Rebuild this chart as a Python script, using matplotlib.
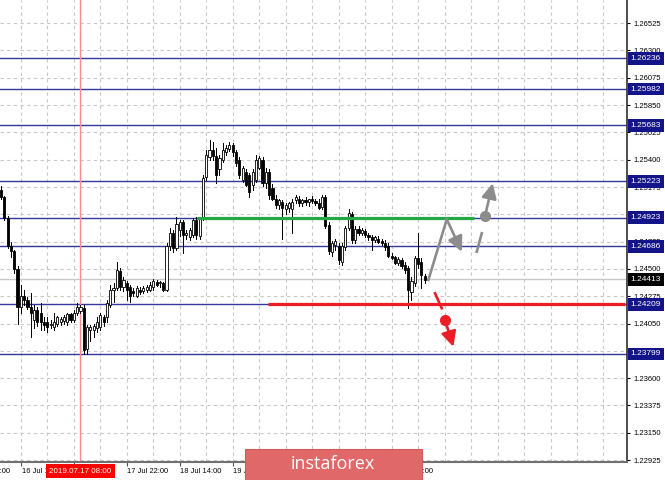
import matplotlib
matplotlib.use("Agg")
import matplotlib.pyplot as plt
from matplotlib.patches import Rectangle

# GBPUSD H1 candles, 16 Jul 08:00 .. 23 Jul 16:00
opens = [1.2515, 1.2509, 1.2492, 1.2469, 1.2465, 1.2450, 1.2419, 1.2428, 1.2424, 1.2419,
         1.2408, 1.2416, 1.2414, 1.2406, 1.2406, 1.2404, 1.2402, 1.2405, 1.2406, 1.2407,
         1.2406, 1.2413, 1.2408, 1.2414, 1.2415, 1.2418, 1.2384, 1.2400, 1.2400, 1.2401,
         1.2402, 1.2410, 1.2410, 1.2420, 1.2433, 1.2434, 1.2448, 1.2435, 1.2438, 1.2435,
         1.2432, 1.2428, 1.2433, 1.2432, 1.2433, 1.2433, 1.2435, 1.2439, 1.2438, 1.2438,
         1.2433, 1.2469, 1.2480, 1.2467, 1.2482, 1.2489, 1.2478, 1.2476, 1.2478, 1.2490,
         1.2477, 1.2491, 1.2526, 1.2542, 1.2548, 1.2543, 1.2532, 1.2540, 1.2546, 1.2549,
         1.2552, 1.2546, 1.2540, 1.2523, 1.2530, 1.2527, 1.2519, 1.2523, 1.2533, 1.2540,
         1.2521, 1.2530, 1.2517, 1.2508, 1.2503, 1.2505, 1.2499, 1.2500, 1.2499, 1.2507,
         1.2508, 1.2504, 1.2507, 1.2505, 1.2508, 1.2506, 1.2504, 1.2501, 1.2509, 1.2486,
         1.2464, 1.2470, 1.2469, 1.2456, 1.2468, 1.2484, 1.2495, 1.2474, 1.2483, 1.2480,
         1.2481, 1.2478, 1.2476, 1.2474, 1.2475, 1.2473, 1.2471, 1.2469, 1.2461, 1.2460,
         1.2455, 1.2457, 1.2453, 1.2451, 1.2431, 1.2438, 1.2459, 1.2456, 1.2444]
highs = [1.2518, 1.2510, 1.2494, 1.2472, 1.2466, 1.2452, 1.2437, 1.2433, 1.2427, 1.2430,
         1.2420, 1.2419, 1.2422, 1.2410, 1.2410, 1.2408, 1.2414, 1.2411, 1.2410, 1.2412,
         1.2414, 1.2414, 1.2416, 1.2422, 1.2420, 1.2420, 1.2404, 1.2404, 1.2405, 1.2410,
         1.2414, 1.2412, 1.2424, 1.2437, 1.2438, 1.2456, 1.2451, 1.2443, 1.2440, 1.2437,
         1.2434, 1.2436, 1.2435, 1.2436, 1.2437, 1.2439, 1.2442, 1.2441, 1.2440, 1.2439,
         1.2471, 1.2484, 1.2482, 1.2493, 1.2490, 1.2490, 1.2482, 1.2484, 1.2492, 1.2493,
         1.2493, 1.2527, 1.2548, 1.2556, 1.2555, 1.2550, 1.2544, 1.2554, 1.2552, 1.2555,
         1.2554, 1.2548, 1.2542, 1.2535, 1.2532, 1.2529, 1.2532, 1.2544, 1.2543, 1.2542,
         1.2533, 1.2532, 1.2520, 1.2511, 1.2508, 1.2507, 1.2504, 1.2505, 1.2508, 1.2511,
         1.2510, 1.2508, 1.2509, 1.2508, 1.2510, 1.2508, 1.2508, 1.2511, 1.2511, 1.2489,
         1.2473, 1.2475, 1.2471, 1.2471, 1.2485, 1.2499, 1.2497, 1.2485, 1.2485, 1.2484,
         1.2483, 1.2480, 1.2478, 1.2477, 1.2477, 1.2475, 1.2474, 1.2471, 1.2463, 1.2461,
         1.2460, 1.2459, 1.2456, 1.2452, 1.2443, 1.2461, 1.2480, 1.2459, 1.2446]
lows = [1.2508, 1.2490, 1.2467, 1.2460, 1.2447, 1.2405, 1.2414, 1.2420, 1.2417, 1.2394,
        1.2401, 1.2403, 1.2400, 1.2400, 1.2398, 1.2401, 1.2400, 1.2403, 1.2404, 1.2405,
        1.2404, 1.2406, 1.2406, 1.2412, 1.2414, 1.2380, 1.2380, 1.2391, 1.2394, 1.2398,
        1.2400, 1.2403, 1.2406, 1.2419, 1.2423, 1.2433, 1.2433, 1.2432, 1.2424, 1.2423,
        1.2428, 1.2427, 1.2429, 1.2430, 1.2431, 1.2432, 1.2433, 1.2436, 1.2435, 1.2432,
        1.2432, 1.2466, 1.2464, 1.2466, 1.2477, 1.2463, 1.2475, 1.2474, 1.2476, 1.2475,
        1.2475, 1.2490, 1.2523, 1.2540, 1.2540, 1.2521, 1.2527, 1.2538, 1.2544, 1.2547,
        1.2543, 1.2535, 1.2525, 1.2522, 1.2518, 1.2509, 1.2515, 1.2522, 1.2532, 1.2518,
        1.2517, 1.2508, 1.2507, 1.2500, 1.2499, 1.2475, 1.2495, 1.2497, 1.2480, 1.2504,
        1.2502, 1.2502, 1.2503, 1.2502, 1.2504, 1.2503, 1.2499, 1.2499, 1.2484, 1.2462,
        1.2461, 1.2466, 1.2454, 1.2453, 1.2466, 1.2482, 1.2471, 1.2471, 1.2478, 1.2478,
        1.2476, 1.2474, 1.2466, 1.2472, 1.2471, 1.2470, 1.2466, 1.2460, 1.2458, 1.2454,
        1.2453, 1.2451, 1.2447, 1.2418, 1.2424, 1.2436, 1.2451, 1.2434, 1.2438]
closes = [1.2509, 1.2492, 1.2469, 1.2465, 1.2450, 1.2419, 1.2428, 1.2424, 1.2419, 1.2414,
          1.2416, 1.2406, 1.2406, 1.2404, 1.2402, 1.2405, 1.2406, 1.2410, 1.2409, 1.2410,
          1.2413, 1.2408, 1.2414, 1.2419, 1.2419, 1.2383, 1.2402, 1.2402, 1.2403, 1.2406,
          1.2412, 1.2406, 1.2422, 1.2433, 1.2434, 1.2449, 1.2435, 1.2441, 1.2433, 1.2428,
          1.2430, 1.2434, 1.2431, 1.2434, 1.2435, 1.2437, 1.2440, 1.2437, 1.2439, 1.2433,
          1.2469, 1.2480, 1.2467, 1.2487, 1.2489, 1.2478, 1.2480, 1.2482, 1.2490, 1.2478,
          1.2491, 1.2525, 1.2544, 1.2548, 1.2543, 1.2527, 1.2541, 1.2548, 1.2550, 1.2552,
          1.2546, 1.2537, 1.2527, 1.2533, 1.2519, 1.2513, 1.2530, 1.2540, 1.2541, 1.2521,
          1.2530, 1.2511, 1.2508, 1.2503, 1.2507, 1.2500, 1.2503, 1.2504, 1.2505, 1.2509,
          1.2504, 1.2507, 1.2505, 1.2508, 1.2506, 1.2504, 1.2500, 1.2509, 1.2485, 1.2465,
          1.2471, 1.2473, 1.2457, 1.2469, 1.2484, 1.2496, 1.2474, 1.2483, 1.2480, 1.2482,
          1.2478, 1.2476, 1.2474, 1.2476, 1.2472, 1.2471, 1.2468, 1.2461, 1.2459, 1.2455,
          1.2458, 1.2452, 1.2449, 1.2433, 1.2440, 1.2459, 1.2454, 1.2445, 1.2441]

levels = [1.26236, 1.25982, 1.25683, 1.25223, 1.24923, 1.24686, 1.24209, 1.23799]
current_price = 1.24413
green_level = 1.24923
red_level = 1.24209
green_span = [59.2, 142.9]
red_span = [80.7, 188.5]

price_ticks = [1.22925, 1.23150, 1.23375, 1.23600, 1.23825, 1.24050, 1.24275, 1.24500,
               1.24725, 1.24950, 1.25175, 1.25400, 1.25625, 1.25850, 1.26075, 1.26300,
               1.26525]
time_idx = [-10, 6, 22, 38, 54, 70, 86, 102, 118]
time_labels = ["15 Jul 22:00", "16 Jul 14:00", "17 Jul 06:00", "17 Jul 22:00",
               "18 Jul 14:00", "19 Jul 06:00", "19 Jul 22:00", "22 Jul 14:00",
               "23 Jul 06:00"]
marker_idx = 24
marker_label = "2019.07.17 08:00"

# forecast arrows (candle index, price)
up_path_x = [129.1, 134.66, 139.19]
up_path_y = [1.24409, 1.24909, 1.24642]
up2_x = [143.72, 145.23, 146.23, 148.55]
up2_y = [1.24642, 1.24794, 1.24939, 1.25206]
down_x = [131.12, 133.14, 134.14, 136.65]
down_y = [1.24299, 1.24176, 1.24079, 1.23859]

FONT = "Liberation Sans"
GRAY_ARROW = "#8c8c8c"
RED = "#ee1c25"

fig = plt.figure(figsize=(6.65, 4.8), dpi=100)
ax = fig.add_axes([0, 18 / 480, 627 / 665, 462 / 480])
ax.set_xlim(-0.3, 189.1)
ax.set_ylim(1.22909, 1.26716)

# dashed grid
for p in price_ticks:
    ax.axhline(p, color="#c8c8c8", lw=0.8, dashes=(3, 3), zorder=0)
for i in range(-2, 190, 8):
    ax.axvline(i, color="#c8c8c8", lw=0.8, dashes=(3, 3), zorder=0)

# levels
ax.axhline(current_price, color="#c8c8c8", lw=1.0, zorder=1)
for lv in levels:
    ax.axhline(lv, color="#3535a0", lw=1.0, zorder=1)
ax.axvline(marker_idx, color="#ff8a8a", lw=1.0, zorder=1)

# candles
for i in range(len(closes)):
    o, h, l, c = opens[i], highs[i], lows[i], closes[i]
    ax.plot([i, i], [l, h], color="black", lw=0.7, zorder=2)
    bull = c >= o
    ax.bar(i, max(abs(c - o), 0.00003), bottom=min(o, c), width=0.65,
           color="white" if bull else "black", edgecolor="black", lw=0.6, zorder=3)

ax.plot(green_span, [green_level, green_level], color="#23a845", lw=2.3, zorder=4,
        solid_capstyle="butt")
ax.plot(red_span, [red_level, red_level], color=RED, lw=2.3, zorder=4,
        solid_capstyle="butt")

# forecast arrows
astyle = "-|>,head_length=0.9,head_width=0.45"
ax.plot(up_path_x[:2], up_path_y[:2], color=GRAY_ARROW, lw=1.9, zorder=5)
ax.annotate("", xy=(up_path_x[2], up_path_y[2]), xytext=(up_path_x[1], up_path_y[1]),
            arrowprops=dict(arrowstyle=astyle, color=GRAY_ARROW, lw=1.9,
                            shrinkA=0, shrinkB=0), zorder=5)
ax.plot(up2_x[:2], up2_y[:2], color=GRAY_ARROW, lw=1.9, zorder=5)
ax.annotate("", xy=(up2_x[3], up2_y[3]), xytext=(up2_x[2], up2_y[2]),
            arrowprops=dict(arrowstyle=astyle, color=GRAY_ARROW, lw=1.9,
                            shrinkA=0, shrinkB=0), zorder=5)
ax.plot(up2_x[2], up2_y[2], "o", color=GRAY_ARROW, ms=7, zorder=6)
ax.plot(down_x[:2], down_y[:2], color=RED, lw=1.9, zorder=5)
ax.annotate("", xy=(down_x[3], down_y[3]), xytext=(down_x[2], down_y[2]),
            arrowprops=dict(arrowstyle=astyle, color=RED, lw=1.9,
                            shrinkA=0, shrinkB=0), zorder=5)
ax.plot(down_x[2], down_y[2], "o", color=RED, ms=7, zorder=6)

# axes styling
for side in ["left", "top"]:
    ax.spines[side].set_visible(False)
ax.spines["bottom"].set_color("#707070")
ax.spines["bottom"].set_linewidth(1.5)
ax.spines["right"].set_color("#303030")
ax.spines["right"].set_linewidth(1.2)

ax.yaxis.tick_right()
ax.set_yticks(price_ticks)
ax.set_yticklabels(["%.5f" % p for p in price_ticks], fontsize=5.5, family=FONT)
ax.tick_params(axis="y", length=2.5, width=0.8, pad=2, colors="black")
ax.set_xticks([t for t in time_idx if t >= 0])
ax.set_xticklabels([])
ax.tick_params(axis="x", length=3, width=0.8, color="#505050")

for t, lab in zip(time_idx, time_labels):
    ax.text(t + 0.2, -0.0195, lab, transform=ax.get_xaxis_transform(), ha="left",
            va="center", fontsize=5.4, family=FONT, clip_on=False)
ax.text(marker_idx, -0.0195, marker_label, transform=ax.get_xaxis_transform(),
        ha="center", va="center", fontsize=5.8, family=FONT, color="white", zorder=7,
        bbox=dict(boxstyle="square,pad=0.4", fc="#ff0000", ec="none"))

# price boxes on the right axis
for lv in levels:
    ax.annotate("%.5f" % lv, xy=(1.0, lv), xycoords=("axes fraction", "data"),
                xytext=(2.5, 0), textcoords="offset points", ha="left", va="center",
                fontsize=6, family=FONT, color="white", annotation_clip=False, zorder=8,
                bbox=dict(boxstyle="square,pad=0.35", fc="#14148a", ec="none"))
ax.annotate("%.5f" % current_price, xy=(1.0, current_price),
            xycoords=("axes fraction", "data"), xytext=(2.5, 0),
            textcoords="offset points", ha="left", va="center", fontsize=6,
            family=FONT, color="white", annotation_clip=False, zorder=8,
            bbox=dict(boxstyle="square,pad=0.35", fc="black", ec="none"))

# watermark banner
fig.add_artist(Rectangle((245 / 665, 0), 177 / 665, 31 / 480, transform=fig.transFigure,
                         fc="#e06868", ec="#d45a5a", lw=0.8, zorder=10))
fig.text(333 / 665, 16 / 480, "instaforex", color="white", fontsize=13,
         family="Open Sans", ha="center", va="center", zorder=11)

fig.savefig("out.png", dpi=100)
